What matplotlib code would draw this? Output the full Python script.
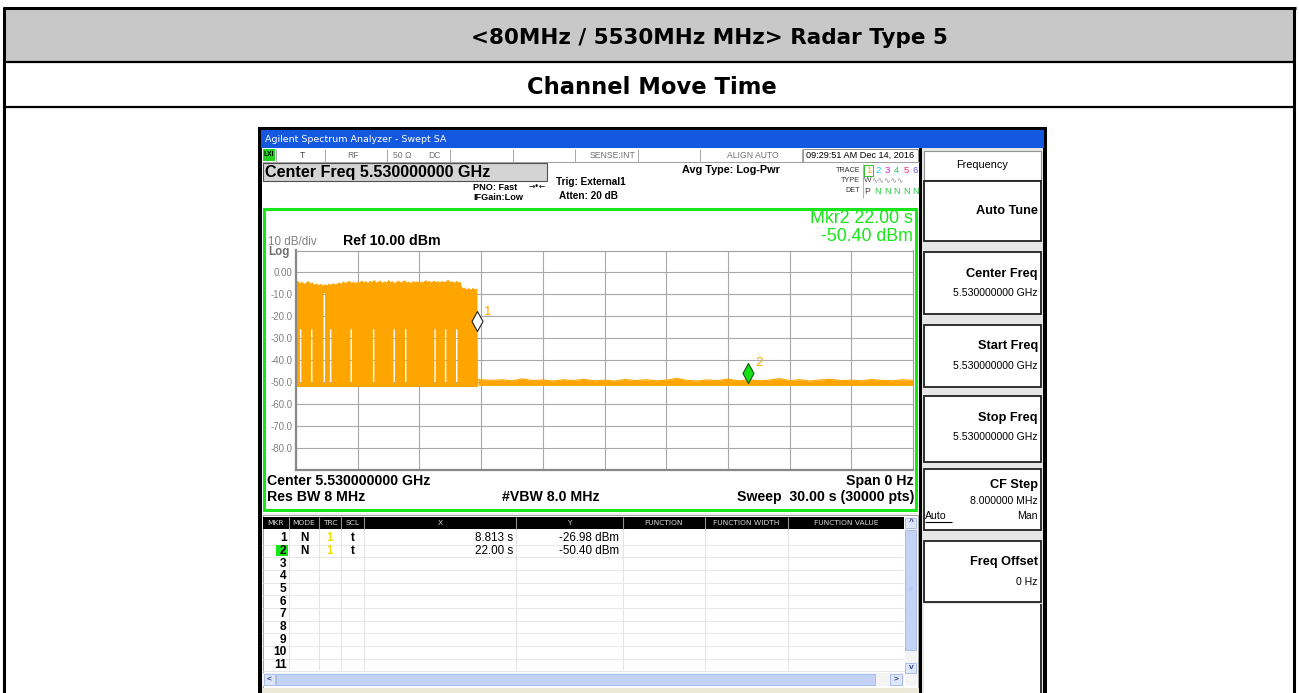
import matplotlib
matplotlib.use('Agg')
import matplotlib.pyplot as plt
from matplotlib.patches import Rectangle
from matplotlib.path import Path

W, H = 1299, 693
plt.rcParams['font.family'] = ['Liberation Sans', 'DejaVu Sans']

title1 = '<80MHz / 5530MHz MHz> Radar Type 5'
title2 = 'Channel Move Time'

# analyzer settings
sweep_s = 30.0
ref_dbm = 10.0
db_div = 10.0
ylabels = ['', '-80.0', '-70.0', '-60.0', '-50.0', '-40.0', '-30.0', '-20.0', '-10.0', '0.00', '']

# trace 1: burst peak envelope every 0.1 s from 0 s (dBm)
peak_dt = 0.1
peak_db = [-4.4, -3.8, -5.0, -4.2, -5.3, -4.6, -3.9, -5.1, -4.5, -5.6,
           -5.0, -5.8, -5.2, -6.0, -5.4, -5.9, -5.1, -5.7, -4.9, -5.5,
           -5.2, -4.5, -5.3, -4.0, -4.9, -4.4, -3.8, -4.8, -4.2, -5.0,
           -4.1, -4.7, -3.6, -4.5, -4.0, -4.9, -3.9, -4.4, -3.4, -4.6,
           -4.2, -3.7, -4.8, -4.1, -4.6, -3.5, -4.4, -4.0, -4.9, -4.2,
           -3.8, -4.6, -4.1, -3.6, -4.7, -4.2, -4.9, -3.9, -4.5, -4.0,
           -4.8, -4.1, -4.6, -3.5, -4.3, -3.9, -4.7, -3.7, -4.4, -4.0,
           -4.6, -3.9, -4.5, -4.1, -3.3, -4.4, -4.0, -4.8, -3.9, -4.5,
           -4.4, -7.4, -6.9, -7.8, -7.2, -7.9, -7.1, -7.7, -7.4]
burst_end = 8.85
burst_floor = -52.2
burst_band = -50.6
# pulse-off gaps inside the burst: start time, top of the gap
gap_t = [0.19, 0.73, 1.34, 1.65, 2.65, 3.74, 4.74, 5.30, 6.73, 7.24, 7.78]
gap_top = [-26.0, -26.0, -9.5, -26.0, -26.0, -26.0, -26.0, -26.0, -26.0, -26.0, -26.0]
gap_w = 0.07

# noise floor after the channel move
floor_t = [8.85, 9.5, 10.0, 10.5, 11.0, 11.5, 12.0, 12.5, 13.0, 13.5, 14.0, 14.5, 15.0, 15.5,
           16.0, 16.5, 17.0, 17.5, 18.0, 18.5, 19.0, 19.5, 20.0, 20.5, 21.0, 21.5, 22.0, 22.5,
           23.0, 23.5, 24.0, 24.5, 25.0, 25.5, 26.0, 26.5, 27.0, 27.5, 28.0, 28.5, 29.0, 29.5, 30.0]
floor_hi = [-48.9, -49.3, -49.0, -49.5, -48.6, -49.4, -49.1, -49.6, -49.0, -49.4, -48.8, -49.5, -49.2, -49.6,
            -48.9, -49.4, -49.0, -49.5, -49.2, -48.4, -49.3, -49.6, -49.1, -49.4, -48.7, -49.5, -49.0, -49.4,
            -49.2, -48.5, -49.4, -49.0, -49.6, -49.1, -48.8, -49.4, -49.2, -49.5, -48.9, -49.3, -49.5, -49.0, -49.3]
floor_lo = -51.6

# markers
mkr_id = ['1', '2']
mkr_x = [8.813, 22.00]
mkr_y = [-26.98, -50.40]
mkr_face = ['white', '#14e014']
mkr_edge = ['#202020', '#0a5a0a']

# marker table
tbl_cols = ['MKR', 'MODE', 'TRC', 'SCL', 'X', 'Y', 'FUNCTION', 'FUNCTION WIDTH', 'FUNCTION VALUE']
tbl_x = ['8.813 s', '22.00 s']
tbl_y = ['-26.98 dBm', '-50.40 dBm']
tbl_rows = 11

# soft keys: title, value, top, bottom
keys = [('Auto Tune', '', 181, 241),
        ('Center Freq', '5.530000000 GHz', 252, 314),
        ('Start Freq', '5.530000000 GHz', 325, 387),
        ('Stop Freq', '5.530000000 GHz', 396, 462),
        ('CF Step', '8.000000 MHz', 469, 530),
        ('Freq Offset', '0 Hz', 541, 602)]

orange = '#ffa500'
green = '#19e619'

fig = plt.figure(figsize=(W / 100, H / 100), dpi=100)
bg = fig.add_axes([0, 0, 1, 1])
bg.set_xlim(0, W)
bg.set_ylim(H, 0)
bg.axis('off')


def box(x0, y0, x1, y1, fc='none', ec='none', lw=0, z=1):
    bg.add_patch(Rectangle((x0, y0), x1 - x0, y1 - y0, facecolor=fc, edgecolor=ec, linewidth=lw, zorder=z))


def line(x0, y0, x1, y1, c='black', lw=1.0, z=2):
    bg.plot([x0, x1], [y0, y1], color=c, lw=lw, zorder=z, solid_capstyle='butt')


def txt(x, y, s, size=8, c='black', ha='left', w='normal', fam=None, **kw):
    t = bg.text(x, y, s, fontsize=size, color=c, ha=ha, va='center', fontweight=w, zorder=6, **kw)
    if fam:
        t.set_family(fam)
    return t


# outer report table
box(5, 9, 1294, 62, fc='#c8c8c8')
line(3, 8, 1296, 8, lw=2.2)
line(4.5, 7, 4.5, H, lw=2.2)
line(1294.5, 7, 1294.5, H, lw=2.2)
line(4, 62, 1295, 62, lw=1.6)
line(4, 107, 1295, 107, lw=1.6)
txt(709, 38.5, title1, size=15.5, w='bold', ha='center', fam=['DejaVu Sans'])
txt(652, 87.5, title2, size=16.3, w='bold', ha='center', fam=['DejaVu Sans'])

# analyzer window
box(258, 127, 1047, H, fc='black')
box(261, 130, 1044, 147.5, fc='#1558e0')
txt(265, 139, 'Agilent Spectrum Analyzer - Swept SA', size=6.8, c='white', fam=['DejaVu Sans'])
box(262, 148, 919, 513, fc='white')
box(262, 513, 919, H, fc='#f0f0f0')
box(922, 148, 1043, H, fc='#e6e6e6')

# status row
line(262, 162, 919, 162, c='#a0a0a0', lw=0.7)
for xd in [276, 325, 387, 450, 513, 575, 638, 700, 802]:
    line(xd, 149, xd, 162, c='#a8a8a8', lw=0.7)
box(803, 149, 918, 161.5, ec='#909090', lw=0.7)
box(263, 149, 275, 161, fc='#1ed21e')
txt(269, 155, 'LXI', size=4.8, w='bold', ha='center')
txt(302, 155, 'T', size=6.2, c='#404040', ha='center')
txt(353, 155, 'RF', size=6.2, c='#707070', ha='center')
txt(393, 155, '50 \u03a9', size=6.2, c='#707070')
txt(434, 155, 'DC', size=6.2, c='#707070', ha='center')
txt(635, 155, 'SENSE:INT', size=6.2, c='#707070', ha='right')
txt(753, 155, 'ALIGN AUTO', size=6.2, c='#707070', ha='center')
txt(806, 155.5, '09:29:51 AM Dec 14, 2016', size=6.6, c='black')

# settings block
box(263, 163, 547, 181, fc='#d4d4d4', ec='#505050', lw=0.8)
txt(265, 172, 'Center Freq 5.530000000 GHz', size=11.6, w='bold')
txt(517, 187, 'PNO: Fast', size=6.6, w='bold', ha='right')
txt(529, 187, '\u2192\u2022\u2190', size=5.5, ha='left', fam=['DejaVu Sans'])
txt(523, 198, 'IFGain:Low', size=6.6, w='bold', ha='right')
txt(556, 182, 'Trig: External1', size=7.2, w='bold')
txt(559, 196, 'Atten: 20 dB', size=7.2, w='bold')
txt(780, 170, 'Avg Type: Log-Pwr', size=7.8, w='bold', ha='right')
txt(860, 170, 'TRACE', size=5.2, c='#303030', ha='right')
txt(860, 181, 'TYPE', size=5.2, c='#303030', ha='right')
txt(860, 191, 'DET', size=5.2, c='#303030', ha='right')
line(863, 164, 863, 198, c='#b0b0b0', lw=0.7)
box(864, 165, 873, 176, ec='#30c030', lw=0.7)
trace_cols = [orange, '#10d0e8', '#e020e0', '#20d060', '#f03070', '#7050f0']
for i, col in enumerate(trace_cols):
    txt(868.5 + i * 9.4, 170.5, str(i + 1), size=6.8, c=col, ha='center')
txt(864, 181, 'W', size=5.8, c='#505050')
txt(871, 181, '\u223f' * 5, size=5.6, c='#909090', fam=['DejaVu Sans'])
txt(864, 191.5, 'P', size=6.2, c='#404040')
for i in range(5):
    txt(878 + i * 9.4, 191.5, 'N', size=6.4, c='#20d040', ha='center')

# plot frame
box(264, 208.5, 916, 509.5, fc='white', ec=green, lw=2.2, z=1)
txt(268, 242, '10 dB/div', size=8.4, c='#808080')
txt(268, 252.5, 'Log', size=8.4, c='#707070', w='bold')
txt(343, 241, 'Ref 10.00 dBm', size=10.2, w='bold')
txt(913, 218.5, 'Mkr2 22.00 s', size=12.8, c=green, ha='right')
txt(913, 236.5, '-50.40 dBm', size=12.8, c=green, ha='right')
txt(267, 481, 'Center 5.530000000 GHz', size=10.2, w='bold')
txt(267, 497, 'Res BW 8 MHz', size=10.2, w='bold')
txt(502, 497, '#VBW 8.0 MHz', size=10.2, w='bold')
txt(914, 481, 'Span 0 Hz', size=10.2, w='bold', ha='right')
txt(914, 497, 'Sweep  30.00 s (30000 pts)', size=10.2, w='bold', ha='right')

# trace axes
px_l, px_r, px_t, px_b = 296, 913, 250.5, 469.5
ax = fig.add_axes([px_l / W, 1 - px_b / H, (px_r - px_l) / W, (px_b - px_t) / H])
ax.set_zorder(3)
ax.set_facecolor('white')
ax.set_xlim(0, sweep_s)
ax.set_ylim(ref_dbm - 10 * db_div, ref_dbm)
ax.set_xticks([sweep_s / 10 * i for i in range(11)])
ax.set_xticklabels([])
ax.set_yticks([ref_dbm - db_div * i for i in range(10, -1, -1)])
ax.set_yticklabels(ylabels)
ax.tick_params(length=0, pad=2.5, labelsize=7, labelcolor='#808080')
ax.grid(True, color='#a8a8a8', lw=0.8)
ax.set_axisbelow(True)
for s in ['left', 'bottom']:
    ax.spines[s].set_color('#888888')
    ax.spines[s].set_linewidth(1.6)
for s in ['top', 'right']:
    ax.spines[s].set_color('#a0a0a0')
    ax.spines[s].set_linewidth(0.8)

# burst: upper envelope forward, lower edge (with off-gaps) backward
peak_t = [i * peak_dt for i in range(len(peak_db))]
poly_x = peak_t[:-1] + [burst_end - 0.03, burst_end]
poly_y = peak_db[:-1] + [peak_db[-1], burst_floor]
for g, top in zip(reversed(gap_t), reversed(gap_top)):
    poly_x += [g + gap_w, g + gap_w, g, g]
    poly_y += [burst_floor, top, top, burst_floor]
poly_x += [0.0]
poly_y += [burst_floor]
ax.fill(poly_x, poly_y, color=orange, lw=0, zorder=2)
ax.fill_between([0.0, burst_end], burst_floor, burst_band, color=orange, lw=0, zorder=2)
ax.fill_between(floor_t, floor_lo, floor_hi, color=orange, lw=0, zorder=2)
ax.plot(floor_t, floor_hi, color=orange, lw=0.8, zorder=2)

diamond = Path([(0, 0), (0.55, 1), (0, 2), (-0.55, 1), (0, 0)],
               [Path.MOVETO, Path.LINETO, Path.LINETO, Path.LINETO, Path.CLOSEPOLY])
for m, x, y, fc, ec in zip(mkr_id, mkr_x, mkr_y, mkr_face, mkr_edge):
    ax.plot([x], [y], marker=diamond, ms=28.8, mfc=fc, mec=ec, mew=0.8, zorder=5, clip_on=False)
    ax.annotate(m, (x, y), xytext=(5, 14), textcoords='offset points', color=orange,
                fontsize=9.5, ha='left', va='center', zorder=6)

# marker table
box(263, 515, 918, 688, fc='white', ec='#a0a0a0', lw=0.7)
col_edges = [263, 289, 319, 341, 364, 516, 623, 705, 788, 904]
box(263, 517, 904, 529, fc='black', z=2)
for i, name in enumerate(tbl_cols):
    x0, x1 = col_edges[i], col_edges[i + 1]
    if i > 0:
        line(x0, 517, x0, 529, c='#909090', lw=0.8, z=3)
        line(x0, 529, x0, 670, c='#e4e4e4', lw=0.7, z=2)
    txt((x0 + x1) / 2, 523, name, size=5.4, c='#d8d8d8', ha='center', fam=['DejaVu Sans'])
row_y0, row_dy = 538.3, 12.67
for r in range(tbl_rows):
    yc = row_y0 + r * row_dy
    line(263, yc + row_dy / 2, 904, yc + row_dy / 2, c='#e8e8e8', lw=0.7, z=2)
    if r == 1:
        box(276, yc - 5.5, 288, yc + 5.5, fc='#19e619', z=2)
    txt(286.5, yc, str(r + 1), size=8.6, w='bold', ha='right')
for r in range(len(tbl_x)):
    yc = row_y0 + r * row_dy
    txt(304.5, yc, 'N', size=8.4, w='bold', ha='center')
    txt(330, yc, '1', size=8.4, w='bold', c='#f0e000', ha='center')
    txt(353, yc, 't', size=8.4, w='bold', ha='center')
    txt(513, yc, tbl_x[r], size=8.4, ha='right')
    txt(619, yc, tbl_y[r], size=8.4, ha='right')

# scrollbars
box(263, 673, 904, 686, fc='#f4f4f4', z=2)
box(276, 674, 875, 685, fc='#c2d3f6', ec='#9fb6e8', lw=0.6, z=3)
box(264, 674, 275, 685, fc='#dde6fa', ec='#9fb6e8', lw=0.6, z=3)
txt(269.5, 679.5, '<', size=6, c='#304080', ha='center', w='bold')
box(890, 674, 902, 685, fc='#dde6fa', ec='#9fb6e8', lw=0.6, z=3)
txt(896, 679.5, '>', size=6, c='#304080', ha='center', w='bold')
box(905, 517, 917, 686, fc='#f4f4f4', z=2)
box(905.5, 518, 916.5, 528, fc='#dde6fa', ec='#9fb6e8', lw=0.6, z=3)
txt(911, 523, '^', size=6, c='#304080', ha='center', w='bold')
box(905.5, 530, 916.5, 650, fc='#c2d3f6', ec='#9fb6e8', lw=0.6, z=3)
txt(911, 590, '=', size=5, c='#9fb6e8', ha='center')
box(905.5, 663, 916.5, 673, fc='#dde6fa', ec='#9fb6e8', lw=0.6, z=3)
txt(911, 667.5, 'v', size=6, c='#304080', ha='center', w='bold')
box(262, 688, 919, H, fc='#ece9d8', z=2)

# soft key panel
line(921, 148, 921, H, c='black', lw=1.2, z=3)
box(924, 151, 1041, 180, fc='white', ec='#909090', lw=0.8, z=2)
txt(982, 165, 'Frequency', size=7.8, ha='center')
for title, val, y0, y1 in keys:
    box(924, y0, 1041, y1, fc='white', ec='#202020', lw=1.3, z=2)
    if title == 'CF Step':
        txt(1038, y0 + 16, title, size=9.2, w='bold', ha='right')
        txt(1038, y0 + 32, val, size=7.6, ha='right')
    elif val:
        txt(1038, y0 + 21.5, title, size=9.2, w='bold', ha='right')
        txt(1038, y0 + 41, val, size=7.6, ha='right')
    else:
        txt(1038, (y0 + y1) / 2, title, size=9.2, w='bold', ha='right')
txt(925, 516, 'Auto', size=7.6)
line(925, 522, 952, 522, lw=0.8, z=7)
txt(1038, 516, 'Man', size=7.6, ha='right')
box(924, 604, 1041, H, fc='white', z=2)
line(1041, 604, 1041, H, c='#202020', lw=1.3, z=3)

fig.savefig('out.png', dpi=100)
